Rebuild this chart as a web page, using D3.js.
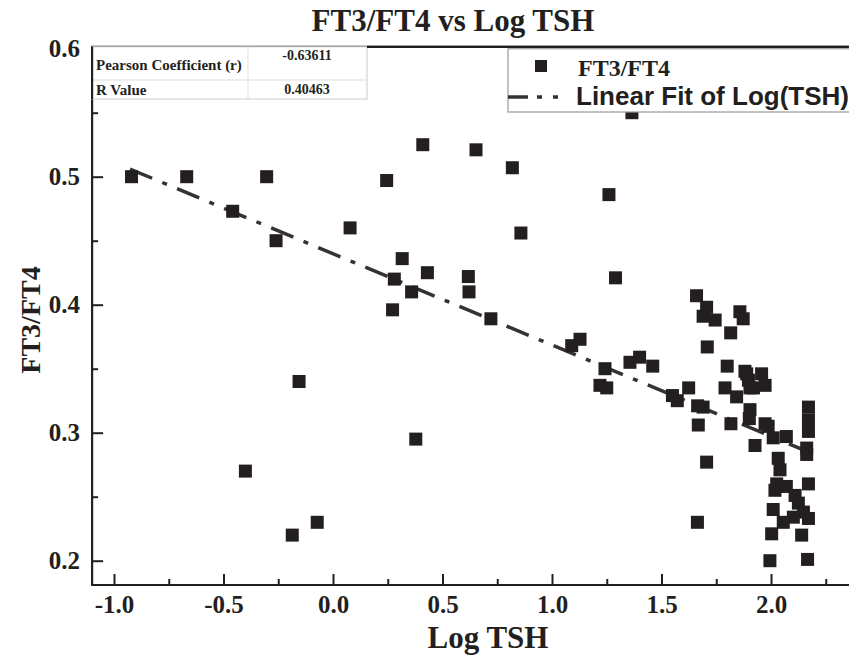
<!DOCTYPE html>
<html>
<head>
<meta charset="utf-8">
<script src="https://cdn.jsdelivr.net/npm/d3@7"></script>
<style>
  html, body { margin: 0; padding: 0; background: #fff; }
  svg { display: block; }
</style>
</head>
<body>
<svg id="chart" width="849" height="656"></svg>
<script>
// ---- data ----
const logTSH = [
  -0.92, -0.668, -0.303, -0.458, -0.26, 0.078,
  0.41, 0.653, 0.819, 0.245, 1.26, 0.858, 1.365,
  0.316, 0.431, 0.28, 0.618, 0.621, 0.359, 1.29, 0.272, 0.721,
  1.128, 1.09, -0.155, -0.40, -0.072, -0.186, 0.378,
  1.242, 1.356, 1.40, 1.46, 1.219, 1.25,
  1.66, 1.706, 1.69, 1.745, 1.858, 1.873, 1.816, 1.709,
  1.80, 1.881, 1.957, 1.624, 1.79, 1.897, 1.92, 1.973, 1.843,
  1.572, 1.55, 1.665, 1.69, 1.904, 1.901, 1.668, 1.817, 1.973, 1.927, 1.706, 1.664,
  1.889, 1.904, 1.987, 2.01, 2.07,
  2.171, 2.171, 2.171, 2.163, 2.163, 2.033, 2.041, 2.026, 2.07, 2.11, 2.018,
  2.171, 2.125, 2.148, 2.171, 2.102, 2.01, 2.056, 2.003, 2.14, 1.995, 2.167
];
const ratio = [
  0.50, 0.50, 0.50, 0.473, 0.45, 0.46,
  0.525, 0.521, 0.507, 0.497, 0.486, 0.456, 0.55,
  0.436, 0.425, 0.42, 0.422, 0.41, 0.41, 0.421, 0.396, 0.389,
  0.373, 0.368, 0.34, 0.27, 0.23, 0.22, 0.295,
  0.35, 0.355, 0.359, 0.352, 0.337, 0.335,
  0.407, 0.398, 0.391, 0.388, 0.3945, 0.389, 0.378, 0.367,
  0.352, 0.348, 0.346, 0.335, 0.335, 0.341, 0.335, 0.337, 0.328,
  0.325, 0.329, 0.321, 0.32, 0.318, 0.311, 0.306, 0.307, 0.307, 0.29, 0.277, 0.23,
  0.346, 0.335, 0.305, 0.296, 0.297,
  0.32, 0.31, 0.301, 0.283, 0.288, 0.28, 0.271, 0.26, 0.258, 0.251, 0.255,
  0.26, 0.245, 0.238, 0.233, 0.234, 0.24, 0.23, 0.221, 0.22, 0.20, 0.201
];
const fitX = [-0.927, 2.17];
const fitY = [0.506, 0.285];
const xTicks = [-1.0, -0.5, 0.0, 0.5, 1.0, 1.5, 2.0];
const xMinor = [-0.75, -0.25, 0.25, 0.75, 1.25, 1.75, 2.25];
const yTicks = [0.2, 0.3, 0.4, 0.5, 0.6];
const yMinor = [0.25, 0.35, 0.45, 0.55];
const tableRows = [["Pearson Coefficient (r)", "-0.63611"], ["R Value", "0.40463"]];
const title = "FT3/FT4 vs Log TSH";
const xTitle = "Log TSH";
const yTitle = "FT3/FT4";
const legendLabels = ["FT3/FT4", "Linear Fit of Log(TSH)"];

// ---- drawing ----
const svg = d3.select("#chart");
const x = d3.scaleLinear().domain([-1, 2]).range([114, 771]);
const y = d3.scaleLinear().domain([0.2, 0.6]).range([560.7, 48.7]);
const ink = "#231f20";
const serif = "'Liberation Serif', 'Times New Roman', serif";
const sans = "'Liberation Sans', Arial, sans-serif";

const fLeft = x(-1.1), fRight = x(2.6), fBottom = y(0.181), fTop = y(0.6015);

// title
svg.append("text").attr("x", 453).attr("y", 31)
  .attr("text-anchor", "middle").attr("font-family", serif).attr("font-weight", "bold")
  .attr("font-size", 31).attr("fill", ink).text(title);

// axes
const gx = svg.append("g").attr("transform", `translate(0,${fBottom})`)
  .call(d3.axisBottom(x).tickValues(xTicks).tickSize(-11).tickPadding(10).tickFormat(d3.format(".1f")));
const gxm = svg.append("g").attr("transform", `translate(0,${fBottom})`)
  .call(d3.axisBottom(x).tickValues(xMinor).tickSize(-6).tickFormat(""));
const gy = svg.append("g").attr("transform", `translate(${fLeft},0)`)
  .call(d3.axisLeft(y).tickValues(yTicks).tickSize(-11).tickPadding(12).tickFormat(d3.format(".1f")));
const gym = svg.append("g").attr("transform", `translate(${fLeft},0)`)
  .call(d3.axisLeft(y).tickValues(yMinor).tickSize(-6).tickFormat(""));
[gx, gxm, gy, gym].forEach(g => {
  g.select(".domain").remove();
  g.selectAll("line").attr("stroke", ink).attr("stroke-width", 2);
  g.selectAll("text").attr("font-family", serif).attr("font-weight", "bold")
    .attr("font-size", 25).attr("fill", ink).text(function(){ return this.textContent.replace("−","-"); });
});

// frame
svg.append("path")
  .attr("d", `M${fRight},${fTop}H${fLeft}V${fBottom}H${fRight}`)
  .attr("fill", "none").attr("stroke", ink).attr("stroke-width", 2.2);

// axis titles
svg.append("text").attr("x", 488).attr("y", 648).attr("text-anchor", "middle")
  .attr("font-family", serif).attr("font-weight", "bold").attr("font-size", 31)
  .attr("fill", ink).text(xTitle);
svg.append("text").attr("transform", `translate(40,320) rotate(-90)`).attr("text-anchor", "middle")
  .attr("font-family", serif).attr("font-weight", "bold").attr("font-size", 28)
  .attr("fill", ink).text(yTitle);

// fit line
svg.append("line")
  .attr("x1", x(fitX[0])).attr("y1", y(fitY[0]))
  .attr("x2", x(fitX[1])).attr("y2", y(fitY[1]))
  .attr("stroke", "#333").attr("stroke-width", 3.5)
  .attr("stroke-dasharray", "24,11,5,11");

// points
const pts = logTSH.map((v, i) => ({x: v, y: ratio[i]}));
const s = 13;
svg.append("g").selectAll("rect").data(pts).join("rect")
  .attr("x", d => x(d.x) - s / 2).attr("y", d => y(d.y) - s / 2)
  .attr("width", s).attr("height", s).attr("fill", ink);

// table
const tb = svg.append("g");
tb.append("rect").attr("x", fLeft).attr("y", fTop).attr("width", 367 - fLeft).attr("height", 99 - fTop)
  .attr("fill", "#fff").attr("stroke", "#ccc").attr("stroke-width", 1);
tb.append("line").attr("x1", fLeft).attr("x2", 367).attr("y1", 80).attr("y2", 80).attr("stroke", "#ddd");
tb.append("line").attr("x1", 248).attr("x2", 248).attr("y1", fTop).attr("y2", 99).attr("stroke", "#ddd");
tb.append("line").attr("x1", fLeft).attr("x2", fLeft).attr("y1", fTop).attr("y2", 99).attr("stroke", ink).attr("stroke-width", 2.2);
tb.append("line").attr("x1", 367).attr("x2", fRight).attr("y1", fTop).attr("y2", fTop).attr("stroke", ink).attr("stroke-width", 2.2);
tb.append("text").attr("x", 96).attr("y", 70).attr("font-family", serif).attr("font-weight", "bold")
  .attr("font-size", 15).attr("fill", ink).text(tableRows[0][0]);
tb.append("text").attr("x", 307).attr("y", 60).attr("text-anchor", "middle").attr("font-family", serif).attr("font-weight", "bold")
  .attr("font-size", 14).attr("fill", ink).text(tableRows[0][1]);
tb.append("text").attr("x", 96).attr("y", 95).attr("font-family", serif).attr("font-weight", "bold")
  .attr("font-size", 15).attr("fill", ink).text(tableRows[1][0]);
tb.append("text").attr("x", 307).attr("y", 94).attr("text-anchor", "middle").attr("font-family", serif).attr("font-weight", "bold")
  .attr("font-size", 14).attr("fill", ink).text(tableRows[1][1]);

// legend
const lg = svg.append("g");
lg.append("rect").attr("x", 508).attr("y", fTop + 2).attr("width", 400).attr("height", 112 - fTop - 2)
  .attr("fill", "#fff").attr("stroke", "#999").attr("stroke-width", 1.2);
lg.append("rect").attr("x", 535).attr("y", 60).attr("width", 12).attr("height", 12).attr("fill", ink);
lg.append("text").attr("x", 578).attr("y", 76).attr("font-family", serif).attr("font-weight", "bold")
  .attr("font-size", 24).attr("fill", ink).text(legendLabels[0]);
lg.append("line").attr("x1", 508).attr("x2", 571).attr("y1", 97).attr("y2", 97)
  .attr("stroke", "#333").attr("stroke-width", 3.5).attr("stroke-dasharray", "20,9,5,11,5,20");
lg.append("text").attr("x", 576).attr("y", 105).attr("font-family", sans).attr("font-weight", "bold")
  .attr("font-size", 26).attr("fill", ink).text(legendLabels[1]);
</script>
</body>
</html>
